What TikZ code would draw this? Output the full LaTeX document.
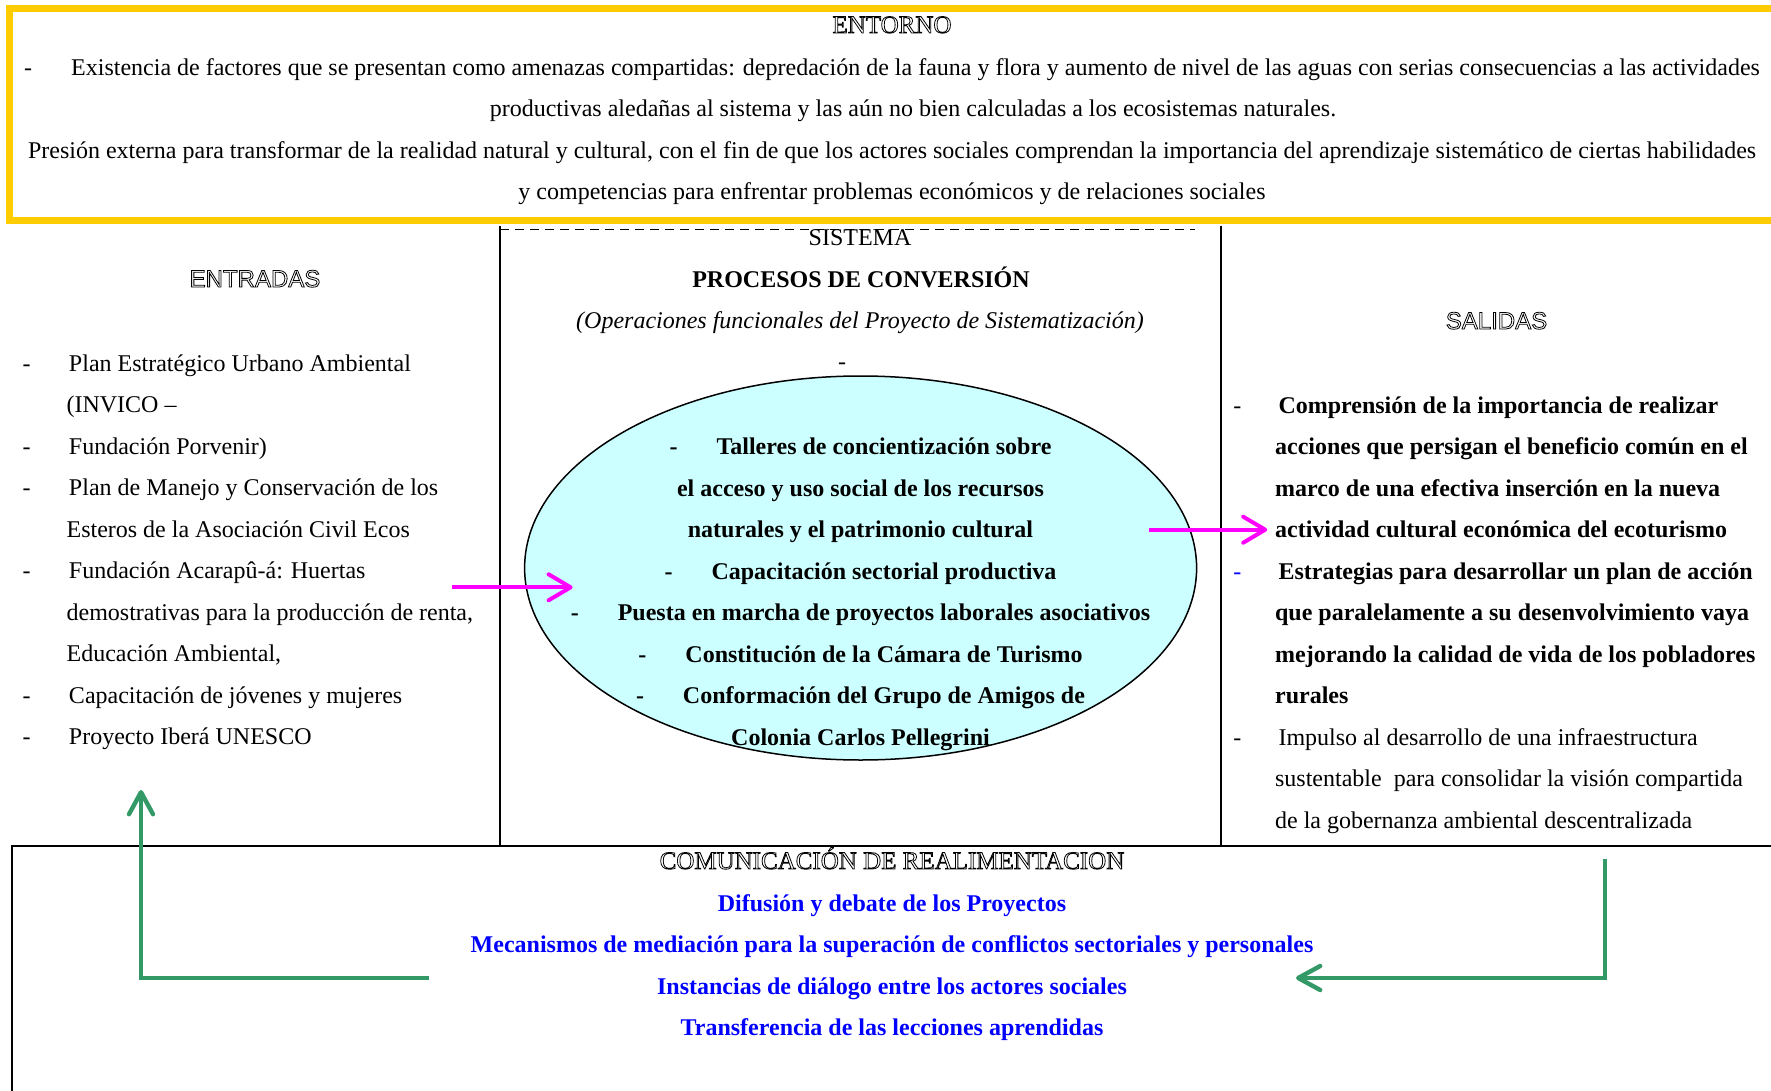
\documentclass[tikz,border=0pt]{standalone}
\usepackage{fontspec}
\setmainfont{Liberation Serif}
\newfontfamily\arialf{Liberation Sans}
\usetikzlibrary{arrows.meta,shapes.geometric}
\definecolor{goldy}{HTML}{FFCC00}
\definecolor{cyanfill}{HTML}{CCFFFF}
\definecolor{magarrow}{HTML}{FF00FF}
\definecolor{greenarrow}{HTML}{339966}
\definecolor{bluetext}{HTML}{0000FF}
\newcommand\outl[1]{\special{pdf:literal direct 1 Tr 0.4 w}#1\special{pdf:literal direct 0 Tr}}
\newcommand\fl{\rule{0pt}{13pt}}
\begin{document}
\begin{tikzpicture}[x=0.5pt,y=-0.5pt,
  txt/.style={inner sep=0pt, outer sep=0pt, font=\fontsize{12pt}{20.75pt}\selectfont},
  head/.style={txt, font=\fontsize{12.5pt}{15pt}\selectfont},
  shead/.style={txt, font=\arialf\fontsize{12pt}{15pt}\selectfont},
  frameline/.style={black, line width=0.75pt},
  magarr/.style={draw=magarrow, line width=2pt, -{Straight Barb[length=11pt,width=13pt,round]}},
  grnarr/.style={draw=greenarrow, line width=2.2pt, line join=miter, -{Straight Barb[length=11pt,width=12pt,round]}}]
\useasboundingbox (0,0) rectangle (1771,1091);
\fill[white] (0,0) rectangle (1771,1091);

% ENTORNO frame
\draw[goldy, line width=3.5pt] (9.5,8.5) rectangle (1775,221);
\node[head, anchor=base] (entorno) at (892,33) {\outl{ENTORNO}};
\node[txt, anchor=north, align=center] (entornotxt) at (892,49.5) {\fl-\hspace{19.5pt}Existencia de factores que se presentan como amenazas compartidas: depredación de la fauna y flora y aumento de nivel de las aguas con serias consecuencias a las actividades\\
\hspace*{21pt}productivas aledañas al sistema y las aún no bien calculadas a los ecosistemas naturales.\\
Presión externa para transformar de la realidad natural y cultural, con el fin de que los actores sociales comprendan la importancia del aprendizaje sistemático de ciertas habilidades\\
y competencias para enfrentar problemas económicos y de relaciones sociales};

% SISTEMA column
\draw[frameline] (500,226) -- (500,846);
\draw[frameline] (1221,226) -- (1221,846);
\draw[black, line width=0.6pt, dash pattern=on 4.5pt off 3pt] (500,229.5) -- (1195,229.5);
\node[txt, anchor=base] (sistema) at (860,246) {SISTEMA};
\node[txt, anchor=base, font=\fontsize{12pt}{15pt}\selectfont\bfseries] (procesos) at (861,287) {PROCESOS DE CONVERSIÓN};
\node[txt, anchor=base, font=\fontsize{12pt}{15pt}\selectfont\itshape] (operaciones) at (860,328.5) {(Operaciones funcionales del Proyecto de Sistematización)};
\node[txt, anchor=base] (sdash) at (842,369.5) {-};

\node[ellipse, draw=black, line width=0.75pt, fill=cyanfill, minimum width=336pt, minimum height=192pt, inner sep=0pt] (conv) at (860.6,568) {};
\node[txt, anchor=north, align=center, font=\fontsize{12pt}{20.75pt}\selectfont\bfseries] (convtxt) at (860.5,428.5) {\fl-\hspace{19.5pt}Talleres de concientización sobre\\
el acceso y uso social de los recursos\\
naturales y el patrimonio cultural\\
-\hspace{19.5pt}Capacitación sectorial productiva\\
-\hspace{19.5pt}Puesta en marcha de proyectos laborales asociativos\\
-\hspace{19.5pt}Constitución de la Cámara de Turismo\\
-\hspace{19.5pt}Conformación del Grupo de Amigos de\\
Colonia Carlos Pellegrini};

% ENTRADAS
\node[shead, anchor=base] (entradas) at (255,287) {\outl{ENTRADAS}};
\node[txt, anchor=north west, align=left] (entlist) at (22.6,345) {\fl-\hspace{19.2pt}Plan Estratégico Urbano Ambiental\\
\hspace*{22pt}(INVICO –\\
-\hspace{19.2pt}Fundación Porvenir)\\
-\hspace{19.2pt}Plan de Manejo y Conservación de los\\
\hspace*{22pt}Esteros de la Asociación Civil Ecos\\
-\hspace{19.2pt}Fundación Acarapû-á: Huertas\\
\hspace*{22pt}demostrativas para la producción de renta,\\
\hspace*{22pt}Educación Ambiental,\\
-\hspace{19.2pt}Capacitación de jóvenes y mujeres\\
-\hspace{19.2pt}Proyecto Iberá UNESCO};

% SALIDAS
\node[shead, anchor=base] (salidas) at (1496.5,329) {\outl{SALIDAS}};
\node[txt, anchor=north west, align=left] (sallist) at (1233.3,387) {\fl-\hspace{18.6pt}\textbf{Comprensión de la importancia de realizar}\\
\hspace*{20.9pt}\textbf{acciones que persigan el beneficio común en el}\\
\hspace*{20.9pt}\textbf{marco de una efectiva inserción en la nueva}\\
\hspace*{20.9pt}\textbf{actividad cultural económica del ecoturismo}\\
\textcolor{bluetext}{-}\hspace{18.6pt}\textbf{Estrategias para desarrollar un plan de acción}\\
\hspace*{20.9pt}\textbf{que paralelamente a su desenvolvimiento vaya}\\
\hspace*{20.9pt}\textbf{mejorando la calidad de vida de los pobladores}\\
\hspace*{20.9pt}\textbf{rurales}\\
-\hspace{18.6pt}Impulso al desarrollo de una infraestructura\\
\hspace*{20.9pt}sustentable\ \ para consolidar la visión compartida\\
\hspace*{20.9pt}de la gobernanza ambiental descentralizada};

% REALIMENTACION box
\draw[black, line width=1pt] (12,1095) -- (12,846) -- (1775,846);
\node[head, anchor=base] (comunic) at (892,869) {\outl{COMUNICACIÓN DE REALIMENTACION}};
\node[txt, anchor=north, align=center, text=bluetext, font=\fontsize{12pt}{20.75pt}\selectfont\bfseries] (feedtxt) at (892,885) {\fl Difusión y debate de los Proyectos\\
Mecanismos de mediación para la superación de conflictos sectoriales y personales\\
Instancias de diálogo entre los actores sociales\\
Transferencia de las lecciones aprendidas};

% arrows
\coordinate (inS) at (452,587.3);
\coordinate (inE) at (572.6,587.3);
\coordinate (outS) at (1148.6,529.7);
\coordinate (outE) at (1267.2,529.7);
\draw[magarr] (inS) -- (inE);
\draw[magarr] (outS) -- (outE);

\coordinate (gl1) at (429,978);
\coordinate (gl2) at (141,978);
\coordinate (gl3) at (141,790);
\draw[grnarr] (gl1) -- (gl2) -- (gl3);
\coordinate (gr1) at (1605,859);
\coordinate (gr2) at (1605,978);
\coordinate (gr3) at (1296,978);
\draw[grnarr] (gr1) -- (gr2) -- (gr3);
\end{tikzpicture}
\end{document}
